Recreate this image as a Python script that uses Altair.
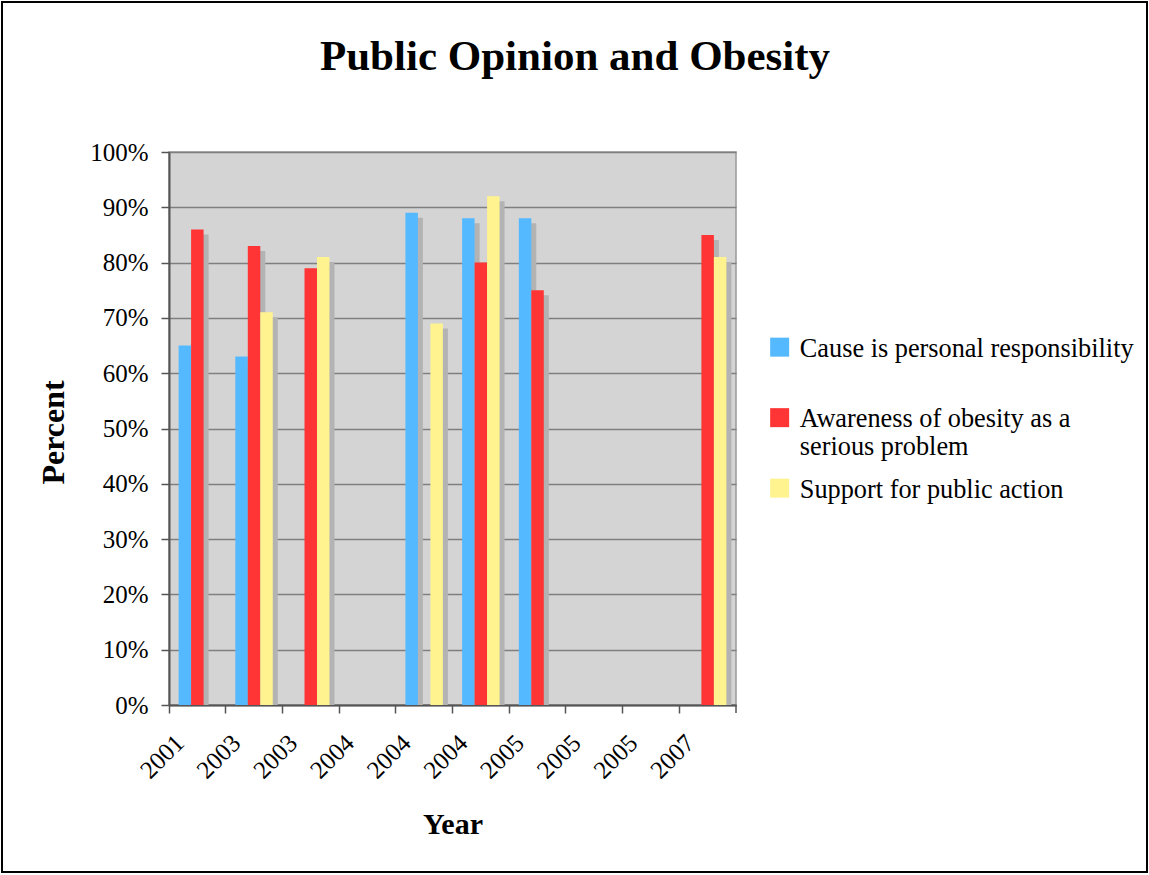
import altair as alt
import pandas as pd

# Survey years (several surveys share a year, so each slot gets its own key)
years = ["2001", "2003", "2003", "2004", "2004", "2004", "2005", "2005", "2005", "2007"]
series_names = [
    "Cause is personal responsibility",
    "Awareness of obesity as a serious problem",
    "Support for public action",
]
responsibility = [65, 63, None, None, 89, 88, 88, None, None, None]
awareness = [86, 83, 79, None, None, 80, 75, None, None, 85]
support = [None, 71, 81, None, 69, 92, None, None, None, 81]
colors = ["#55B9FF", "#FF3434", "#FFF38F"]
y_ticks = [0, 10, 20, 30, 40, 50, 60, 70, 80, 90, 100]

slots = [f"{i}|{y}" for i, y in enumerate(years)]
rows = []
for name, vals in zip(series_names, [responsibility, awareness, support]):
    for slot, v in zip(slots, vals):
        if v is not None:
            rows.append({"slot": slot, "series": name, "value": v})
df = pd.DataFrame(rows)

W, H = 567, 553
SERIF = "Liberation Serif"
STEP = W / len(slots)
AXIS_GREY = "#555555"

x_enc = alt.X(
    "slot:N",
    sort=slots,
    scale=alt.Scale(domain=slots, padding=0),
    axis=alt.Axis(
        title="Year",
        bandPosition=0,
        labelExpr="split(datum.value, '|')[1]",
        labelAngle=315,
        labelAlign="right",
        labelBaseline="top",
        labelOffset=-26,
        labelPadding=17,
        labelFont=SERIF,
        labelFontSize=25,
        labelColor="black",
        tickSize=8,
        tickColor=AXIS_GREY,
        tickWidth=1.5,
        domainColor=AXIS_GREY,
        domainWidth=2,
        grid=False,
        titleFont=SERIF,
        titleFontSize=30,
        titleFontWeight="bold",
        titleColor="black",
        titleBaseline="alphabetic",
        titleY=128,
    ),
)

y_enc = alt.Y(
    "value:Q",
    scale=alt.Scale(domain=[0, 100], nice=False),
    axis=alt.Axis(
        title="Percent",
        values=y_ticks,
        labelExpr="datum.value + '%'",
        labelFont=SERIF,
        labelFontSize=25,
        labelColor="black",
        labelPadding=13,
        tickSize=8,
        tickColor=AXIS_GREY,
        tickWidth=1.5,
        domainColor=AXIS_GREY,
        domainWidth=2,
        grid=True,
        gridColor="#7f7f7f",
        gridWidth=1.5,
        titleFont=SERIF,
        titleFontSize=32,
        titleFontWeight="bold",
        titleColor="black",
        titleBaseline="alphabetic",
        titleAlign="center",
        titleAngle=270,
        titleX=-106,
        titleY=280,
    ),
)

# Drop shadows: same bars nudged right and down, drawn underneath
shadow = alt.Chart(df).mark_bar(color="#b3b3b3", yOffset=5, clip=True).encode(
    x=x_enc,
    y=y_enc,
    xOffset=alt.XOffset(
        "series:N",
        sort=series_names,
        scale=alt.Scale(
            domain=series_names,
            paddingInner=0,
            paddingOuter=0.77,
            range=[5, STEP + 5],
        ),
    ),
)

bars = alt.Chart(df).mark_bar().encode(
    x=x_enc,
    y=y_enc,
    xOffset=alt.XOffset(
        "series:N",
        sort=series_names,
        scale=alt.Scale(domain=series_names, paddingInner=0, paddingOuter=0.77),
    ),
    color=alt.Color(
        "series:N",
        scale=alt.Scale(domain=series_names, range=colors),
        legend=alt.Legend(
            title=None,
            orient="none",
            legendX=597.5,
            legendY=191.5,
            direction="vertical",
            gridAlign="all",
            padding=0,
            symbolOffset=0,
            symbolType="M-1,-2H1V0H-1Z",
            symbolSize=361,
            symbolStrokeWidth=0,
            labelFont=SERIF,
            labelFontSize=26.3,
            labelColor="black",
            labelBaseline="alphabetic",
            labelOffset=7,
            labelLimit=600,
            rowPadding=15.5,
            labelExpr=(
                "datum.label == 'Awareness of obesity as a serious problem'"
                " ? ['Awareness of obesity as a', 'serious problem'] : datum.label"
            ),
        ),
    ),
)

# Closing tick at the right end of the category axis
end_tick = alt.Chart(alt.Data(values=[{}])).mark_rule(
    color=AXIS_GREY, strokeWidth=1.5
).encode(x=alt.value(W), y=alt.value(H), y2=alt.value(H + 8))

# Frame around the whole figure
frame = alt.Chart(alt.Data(values=[{}])).mark_rect(
    filled=False, stroke="black", strokeWidth=2
).encode(
    x=alt.value(-167), x2=alt.value(978), y=alt.value(-150), y2=alt.value(720)
)

chart = (
    alt.layer(shadow, bars, end_tick, frame)
    .resolve_scale(xOffset="independent")
    .properties(
        width=W,
        height=H,
        autosize="none",
        padding={"left": 169, "top": 152, "right": 413, "bottom": 170},
        title=alt.TitleParams(
            "Public Opinion and Obesity",
            font=SERIF,
            fontSize=43,
            fontWeight="bold",
            color="black",
            anchor="middle",
            frame="group",
            dx=122.5,
            baseline="alphabetic",
            offset=-112,
        ),
        background="white",
    )
    .configure_view(fill="#d4d4d4", stroke="#999999", strokeWidth=1.5)
)

chart.save("out.html", embed_options={"renderer": "svg", "actions": False})
